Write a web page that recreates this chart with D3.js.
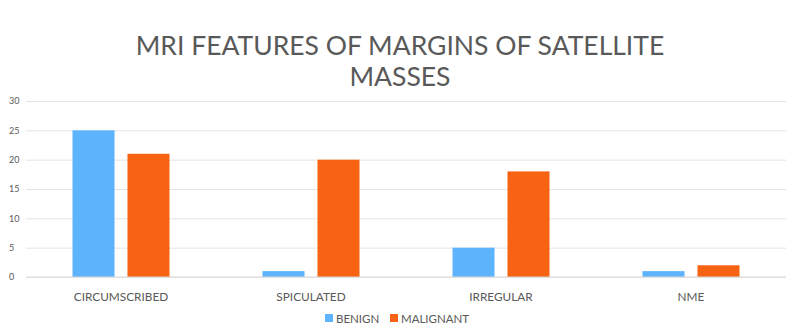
<!DOCTYPE html>
<html>
<head>
<meta charset="utf-8">
<script src="https://cdn.jsdelivr.net/npm/d3@7"></script>
<style>
  body { margin: 0; background: #fff; }
  text { font-family: Lato, "Open Sans", sans-serif; fill: #595959; }
</style>
</head>
<body>
<div id="plot"></div>
<script>
// chart data
var categories = ['CIRCUMSCRIBED', 'SPICULATED', 'IRREGULAR', 'NME'];
var seriesNames = ['BENIGN', 'MALIGNANT'];
var benign = [25, 1, 5, 1];
var malignant = [21, 20, 18, 2];
var yTicks = [0, 5, 10, 15, 20, 25, 30];
var colors = ['#5DB4FD', '#F86313'];

var W = 800, H = 332;
var svg = d3.select('#plot').append('svg')
    .attr('width', W)
    .attr('height', H);

// scales
var x0 = d3.scaleBand().domain(categories).range([26, 786]).padding(0);
var x1 = d3.scaleBand().domain(seriesNames).range([46.5, 143.5]).paddingInner(0.236);
var y = d3.scaleLinear().domain([0, 30]).range([277, 101]);

// title
svg.append('text')
    .attr('x', 400).attr('y', 55)
    .attr('text-anchor', 'middle')
    .style('font-size', '26.5px')
    .text('MRI FEATURES OF MARGINS OF SATELLITE');
svg.append('text')
    .attr('x', 400).attr('y', 86)
    .attr('text-anchor', 'middle')
    .style('font-size', '26.5px')
    .text('MASSES');

// gridlines + y labels
var yAxis = d3.axisLeft(y).tickValues(yTicks).tickSize(-760).tickPadding(8);
var gy = svg.append('g')
    .attr('transform', 'translate(26,0)')
    .call(yAxis);
gy.select('.domain').remove();
gy.selectAll('line').attr('stroke', '#e4e4e4');
gy.selectAll('text').style('font-size', '9px').attr('text-anchor', 'start').attr('x', -17);

// bars
var rows = categories.map(function(c, i) {
    return { cat: c, vals: [benign[i], malignant[i]] };
});
var groups = svg.selectAll('.grp').data(rows).enter().append('g')
    .attr('transform', function(d) { return 'translate(' + x0(d.cat) + ',0)'; });
groups.selectAll('rect')
    .data(function(d) { return d.vals.map(function(v, j) { return { name: seriesNames[j], v: v, j: j }; }); })
    .enter().append('rect')
    .attr('x', function(d) { return x1(d.name); })
    .attr('width', x1.bandwidth())
    .attr('y', function(d) { return y(d.v); })
    .attr('height', function(d) { return y(0) - y(d.v); })
    .style('fill', function(d) { return colors[d.j]; });

// baseline
svg.append('line')
    .attr('x1', 26).attr('x2', 786)
    .attr('y1', y(0)).attr('y2', y(0))
    .attr('stroke', '#d9d9d9');

// x labels
var xAxis = d3.axisBottom(x0).tickSize(0).tickPadding(16);
var gx = svg.append('g')
    .attr('transform', 'translate(0,' + y(0) + ')')
    .call(xAxis);
gx.select('.domain').remove();
gx.selectAll('text').style('font-size', '11.8px');

// legend
var legendX = [325, 390];
var lg = svg.selectAll('.lg').data(seriesNames).enter().append('g')
    .attr('transform', function(d, i) { return 'translate(' + legendX[i] + ',314)'; });
lg.append('rect')
    .attr('width', 8).attr('height', 8)
    .style('fill', function(d, i) { return colors[i]; });
lg.append('text')
    .attr('x', 11).attr('y', 8.5)
    .style('font-size', '11.5px')
    .text(function(d) { return d; });
</script>
</body>
</html>
